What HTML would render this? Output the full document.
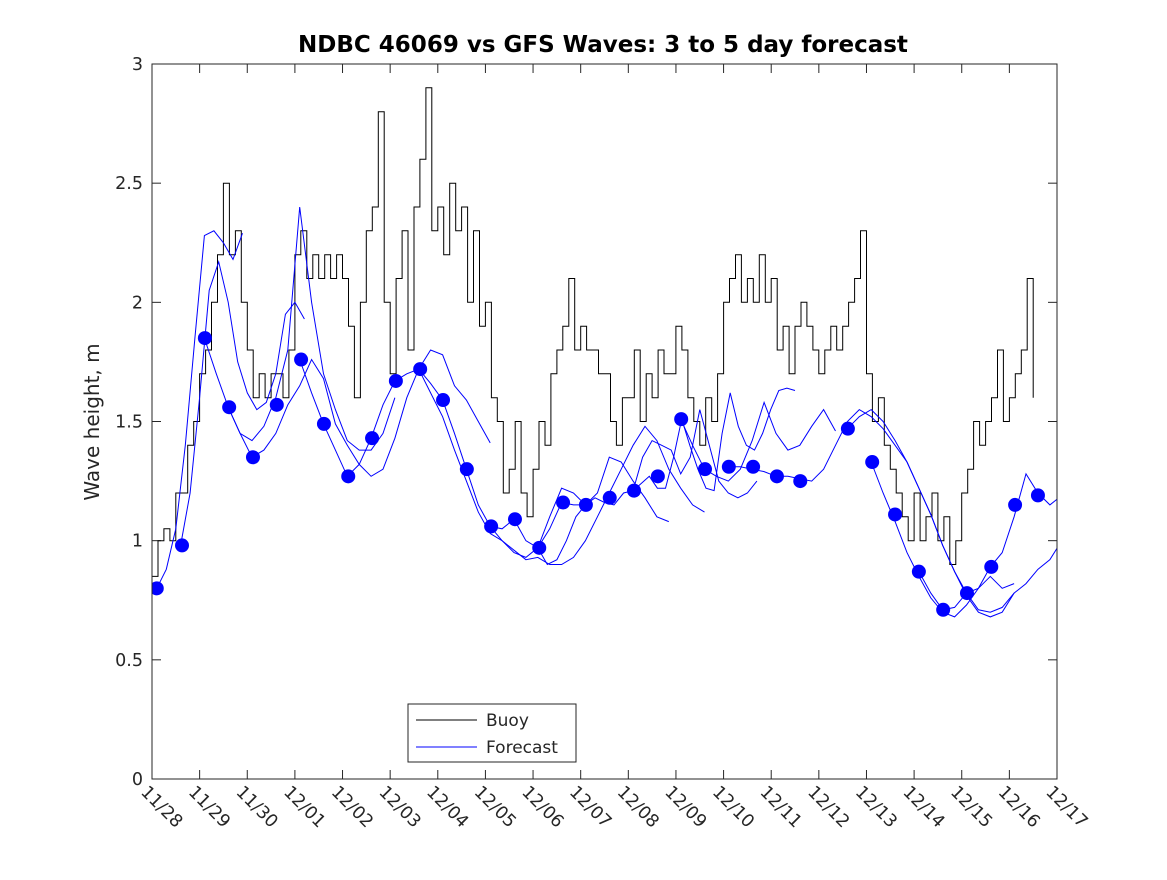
<!DOCTYPE html>
<html><head><meta charset="utf-8"><style>
body{margin:0;background:#fff;}
svg text{font-family:"DejaVu Sans","Liberation Sans",sans-serif;fill:#262626;}
</style></head><body>
<svg id="chart" width="1167" height="875" xmlns="http://www.w3.org/2000/svg">
<rect width="1167" height="875" fill="#fff"/>
<text x="603" y="52" text-anchor="middle" font-size="23" font-weight="bold" style="fill:#000">NDBC 46069 vs GFS Waves: 3 to 5 day forecast</text>
<text transform="translate(99,422) rotate(-90)" text-anchor="middle" font-size="20">Wave height, m</text>
<g id="grid"></g>
<g id="series"></g>
<rect x="152" y="64" width="905" height="715" fill="none" stroke="#262626" stroke-width="1"/>
<g>
<rect x="408" y="704" width="168" height="58" fill="#fff" stroke="#262626"/>
<line x1="416" y1="720" x2="477" y2="720" stroke="#000"/>
<text x="486" y="726" font-size="17">Buoy</text>
<line x1="416" y1="747" x2="477" y2="747" stroke="#0000ff"/>
<text x="486" y="753" font-size="17">Forecast</text>
</g>
</svg>
<script>
const xTickLabels=["11/28","11/29","11/30","12/01","12/02","12/03","12/04","12/05","12/06","12/07","12/08","12/09","12/10","12/11","12/12","12/13","12/14","12/15","12/16","12/17"];
const yTicks=[0,0.5,1,1.5,2,2.5,3];
const yTickLabels=["0","0.5","1","1.5","2","2.5","3"];
const buoyStep=0.125;
const buoyValues=[0.85,1.0,1.05,1.0,1.2,1.2,1.4,1.5,
1.7,1.8,2.0,2.2,2.5,2.2,2.3,2.0,
1.8,1.6,1.7,1.6,1.7,1.7,1.6,1.8,
2.2,2.3,2.1,2.2,2.1,2.2,2.1,2.2,
2.1,1.9,1.6,2.0,2.3,2.4,2.8,2.0,
1.7,2.1,2.3,1.8,2.4,2.6,2.9,2.3,
2.4,2.2,2.5,2.3,2.4,2.0,2.3,1.9,
2.0,1.6,1.5,1.2,1.3,1.5,1.2,1.1,
1.3,1.5,1.4,1.7,1.8,1.9,2.1,1.8,
1.9,1.8,1.8,1.7,1.7,1.5,1.4,1.6,
1.6,1.8,1.5,1.7,1.6,1.8,1.7,1.7,
1.9,1.8,1.6,1.5,1.4,1.6,1.5,1.7,
2.0,2.1,2.2,2.0,2.1,2.0,2.2,2.0,
2.1,1.8,1.9,1.7,1.9,2.0,1.9,1.8,
1.7,1.8,1.9,1.8,1.9,2.0,2.1,2.3,
1.7,1.5,1.6,1.4,1.3,1.2,1.1,1.0,
1.2,1.0,1.1,1.2,1.0,1.1,0.9,1.0,
1.2,1.3,1.5,1.4,1.5,1.6,1.8,1.5,
1.6,1.7,1.8,2.1,1.6];
const dotDays=[0.1,0.63,1.11,1.62,2.12,2.62,3.13,3.61,4.12,4.62,5.12,5.63,6.11,6.61,7.12,7.62,8.13,8.63,9.11,9.61,10.12,10.62,11.11,11.61,12.11,12.62,13.12,13.61,14.61,15.12,15.6,16.1,16.61,17.11,17.62,18.12,18.6];
const dotValues=[0.80,0.98,1.85,1.56,1.35,1.57,1.76,1.49,1.27,1.43,1.67,1.72,1.59,1.30,1.06,1.09,0.97,1.16,1.15,1.18,1.21,1.27,1.51,1.30,1.31,1.31,1.27,1.25,1.47,1.33,1.11,0.87,0.71,0.78,0.89,1.15,1.19];
const runStarts=[0.1,0.6,1.1,1.6,3.1,5.6,7.1,8.1,10.1,11.1,12.1,14.6,16.1,15.1];
const runSteps=[0.2,0.2,0.25,0.25,0.25,0.25,0.25,0.2,0.17,0.25,0.25,0.25,0.25,0.25];
const runValues=[
[0.80,0.88,1.05,1.40,1.85,2.28,2.30,2.25,2.18,2.29],
[0.98,1.20,1.60,2.05,2.17,2.0,1.75,1.62,1.55,1.58,1.70,1.95,2.0,1.93],
[1.85,1.70,1.56,1.45,1.42,1.48,1.60,1.80,2.40,2.0,1.70,1.55,1.42,1.38,1.38,1.45,1.60],
[1.56,1.45,1.35,1.38,1.45,1.57,1.65,1.76,1.68,1.49,1.40,1.32,1.27,1.30,1.43,1.60,1.72,1.80,1.78,1.65,1.59,1.50,1.41],
[1.76,1.62,1.49,1.38,1.27,1.32,1.43,1.57,1.67,1.70,1.72,1.66,1.59,1.45,1.30,1.15,1.06,1.05,1.09,1.00,0.97,1.05,1.16,1.15,1.15],
[1.72,1.62,1.52,1.38,1.25,1.12,1.03,1.00,0.96,0.92,0.93,0.90,0.90,0.93,1.00,1.10,1.20,1.30,1.40,1.48,1.42,1.30,1.22,1.15,1.12],
[1.06,1.00,0.95,0.93,0.97,1.10,1.22,1.20,1.15,1.20,1.35,1.33,1.25,1.18,1.10,1.08],
[0.97,0.90,0.92,1.00,1.10,1.15,1.18,1.16,1.15,1.20,1.21,1.35,1.42,1.40,1.38,1.28,1.35,1.55,1.40,1.25,1.20,1.18,1.20,1.25],
[1.21,1.24,1.27,1.22,1.22,1.35,1.51,1.40,1.30,1.22,1.21,1.45,1.62,1.48,1.40,1.38,1.45,1.55,1.63,1.64,1.63],
[1.51,1.40,1.30,1.27,1.25,1.30,1.42,1.58,1.45,1.38,1.40,1.48,1.55,1.46],
[1.31,1.31,1.30,1.29,1.27,1.27,1.26,1.25,1.30,1.40,1.50,1.55,1.52,1.47,1.40,1.33,1.22,1.11,0.98,0.87,0.78,0.71,0.70,0.72,0.78],
[1.47,1.52,1.55,1.50,1.42,1.33,1.22,1.11,0.98,0.87,0.77,0.70,0.68,0.70,0.78,0.82,0.88,0.92,1.00,1.02,0.95,0.90,0.92,1.00,1.20,1.50],
[0.87,0.78,0.71,0.72,0.78,0.80,0.89,0.95,1.10,1.28,1.20,1.15,1.19,1.22,1.12],
[1.33,1.20,1.08,0.95,0.85,0.76,0.70,0.68,0.73,0.80,0.85,0.80,0.82]];
const NS="http://www.w3.org/2000/svg";
const X0=152,X1=1057,Y0=779,Y1=64,DAYS=19,YMAX=3;
function xs(d){return X0+(X1-X0)*d/DAYS;}
function ys(v){return Y0-(Y0-Y1)*v/YMAX;}
function mk(tag,attrs,parent){const e=document.createElementNS(NS,tag);for(const k in attrs)e.setAttribute(k,attrs[k]);parent.appendChild(e);return e;}
const grid=document.getElementById('grid'),ser=document.getElementById('series');
yTicks.forEach((t,i)=>{
  const l=mk('line',{x1:X0,x2:X0+9,y1:ys(t),y2:ys(t),stroke:'#262626'},grid);
  
  
  mk('line',{x1:X1-9,x2:X1,y1:ys(t),y2:ys(t),stroke:'#262626'},grid);
  const tx=mk('text',{x:X0-9,y:ys(t)+6,'text-anchor':'end','font-size':'17.5'},grid);
  tx.textContent=yTickLabels[i];
  
  
});
xTickLabels.forEach((lab,i)=>{
  const x=xs(i);
  const l=mk('line',{x1:x,x2:x,y1:Y0,y2:Y0-9,stroke:'#262626'},grid);
  
  
  mk('line',{x1:x,x2:x,y1:Y1,y2:Y1+9,stroke:'#262626'},grid);
  const tx=mk('text',{transform:`translate(${x-12},${Y0+14}) rotate(45)`,'font-size':'17.5'},grid);
  tx.textContent=lab;
  
  
});
const clip=mk('clipPath',{id:'pc'},document.getElementById('chart'));
mk('rect',{x:X0,y:Y1,width:X1-X0,height:Y0-Y1},clip);
ser.setAttribute('clip-path','url(#pc)');
let bpts=[];
buoyValues.forEach((v,i)=>{
  const x0=xs(i*buoyStep),x1=xs((i+1)*buoyStep),y=ys(v);
  bpts.push(x0.toFixed(1)+','+y.toFixed(1));
  if(i<buoyValues.length-1)bpts.push(x1.toFixed(1)+','+y.toFixed(1));
});
const bl=mk('polyline',{points:bpts.join(' '),fill:'none',stroke:'#000','stroke-width':'1'},ser);


runValues.forEach((vals,r)=>{
  const p=vals.map((v,i)=>xs(runStarts[r]+i*runSteps[r]).toFixed(1)+','+ys(v).toFixed(1)).join(' ');
  const pl=mk('polyline',{points:p,fill:'none',stroke:'#0000ff','stroke-width':'1'},ser);
  
  
});
dotDays.forEach((d,i)=>{
  const c=mk('circle',{cx:xs(d),cy:ys(dotValues[i]),r:7,fill:'#0000ff'},ser);
  
  
});
</script>
</body></html>
